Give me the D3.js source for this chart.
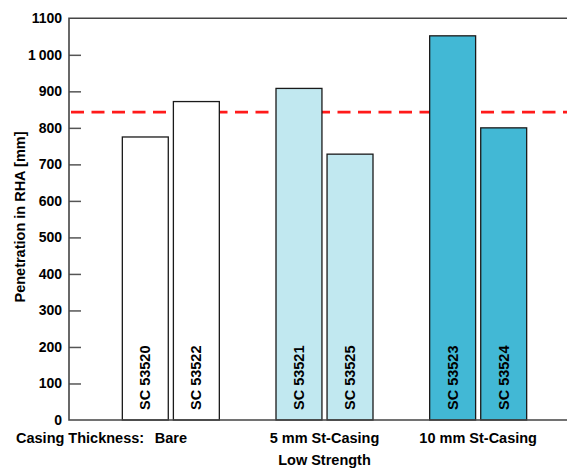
<!DOCTYPE html>
<html>
<head>
<meta charset="utf-8">
<script src="https://cdn.jsdelivr.net/npm/d3@7"></script>
<style>
  html, body { margin: 0; padding: 0; background: #fff; }
  svg { display: block; font-family: "Liberation Sans", Arial, Helvetica, sans-serif; font-weight: bold; }
</style>
</head>
<body>
<svg id="chart" width="567" height="468"></svg>
<script>
// Penetration depth per shot, grouped by casing thickness
const groups = ["Bare", "5 mm St-Casing", "10 mm St-Casing"];
const shotIds = [["SC 53520", "SC 53522"], ["SC 53521", "SC 53525"], ["SC 53523", "SC 53524"]];
const penetration = [[775, 872], [908, 728], [1052, 800]];
const groupFills = ["#ffffff", "#c1e8f0", "#42b8d5"];
const referenceLevel = 843;
const yTicks = [0, 100, 200, 300, 400, 500, 600, 700, 800, 900, 1000, 1100];
const yTickLabels = ["0", "100", "200", "300", "400", "500", "600", "700", "800", "900", "1\u2009000", "1100"];

const svg = d3.select("#chart");
const W = 567;
const margin = { left: 69, top: 18.3, bottom: 420 };

const y = d3.scaleLinear().domain([0, 1100]).range([margin.bottom, margin.top]);
const xGroup = d3.scaleBand().domain(groups).range([94, 555]).paddingInner(0).paddingOuter(0);
const xShot = d3.scaleBand().domain([0, 1]).paddingInner(0.1).paddingOuter(0);

// reference level (dashed), drawn behind the bars
svg.append("line")
  .attr("x1", margin.left + 2).attr("x2", W)
  .attr("y1", y(referenceLevel)).attr("y2", y(referenceLevel))
  .attr("stroke", "#ff1a1a").attr("stroke-width", 2.6)
  .attr("stroke-dasharray", "13,7.5");

// bars
const rows = [];
groups.forEach((g, gi) => {
  penetration[gi].forEach((v, si) => rows.push({ g, gi, si, v, id: shotIds[gi][si] }));
});

const barG = svg.append("g");
rows.forEach(d => {
  const c = xGroup(d.g) + xGroup.bandwidth() / 2;
  xShot.range([c - 48.5, c + 48.5]);
  const x0 = xShot(d.si), bw = xShot.bandwidth();
  barG.append("rect")
    .attr("x", x0).attr("width", bw)
    .attr("y", y(d.v)).attr("height", y(0) - y(d.v))
    .attr("fill", groupFills[d.gi])
    .attr("stroke", "#1a1a1a").attr("stroke-width", 1.3);
  const cx = x0 + bw / 2, by = 410;
  barG.append("text")
    .attr("transform", `translate(${cx},${by}) rotate(-90)`)
    .attr("dominant-baseline", "central")
    .attr("text-anchor", "start")
    .attr("font-size", 14.5)
    .attr("fill", "#000")
    .text(d.id);
});

// y axis with inward ticks
const yAxis = d3.axisRight(y)
  .tickValues(yTicks.filter(t => t > 0 && t < 1100))
  .tickSize(12)
  .tickFormat("");
const ya = svg.append("g").attr("transform", `translate(${margin.left},0)`).call(yAxis);
ya.select(".domain").remove();
ya.selectAll(".tick line").attr("stroke", "#555").attr("stroke-width", 1.5);

// tick labels
svg.append("g").selectAll("text").data(yTicks).join("text")
  .attr("x", 62).attr("y", d => y(d))
  .attr("text-anchor", "end").attr("dominant-baseline", "central")
  .attr("font-size", 14).attr("fill", "#000")
  .text((d, i) => yTickLabels[i]);

// frame: left axis, top and bottom lines
const frame = svg.append("g").attr("stroke", "#444").attr("stroke-width", 1.6).attr("fill", "none");
frame.append("path").attr("d", `M${W},${y(1100)}H${margin.left}V${y(0)}H${W}`);

// axis title
svg.append("text")
  .attr("transform", `translate(20,217) rotate(-90)`)
  .attr("text-anchor", "middle").attr("dominant-baseline", "central")
  .attr("font-size", 14.5).attr("fill", "#000")
  .text("Penetration in RHA [mm]");

// category labels
svg.append("text").attr("x", 16).attr("y", 438)
  .attr("dominant-baseline", "central").attr("font-size", 14.5)
  .text("Casing Thickness:");
svg.append("g").selectAll("text").data(groups).join("text")
  .attr("x", d => xGroup(d) + xGroup.bandwidth() / 2)
  .attr("y", 438)
  .attr("text-anchor", "middle").attr("dominant-baseline", "central")
  .attr("font-size", 14.5)
  .text(d => d);
svg.append("text")
  .attr("x", xGroup(groups[1]) + xGroup.bandwidth() / 2).attr("y", 460)
  .attr("text-anchor", "middle").attr("dominant-baseline", "central")
  .attr("font-size", 14.5)
  .text("Low Strength");
</script>
</body>
</html>
